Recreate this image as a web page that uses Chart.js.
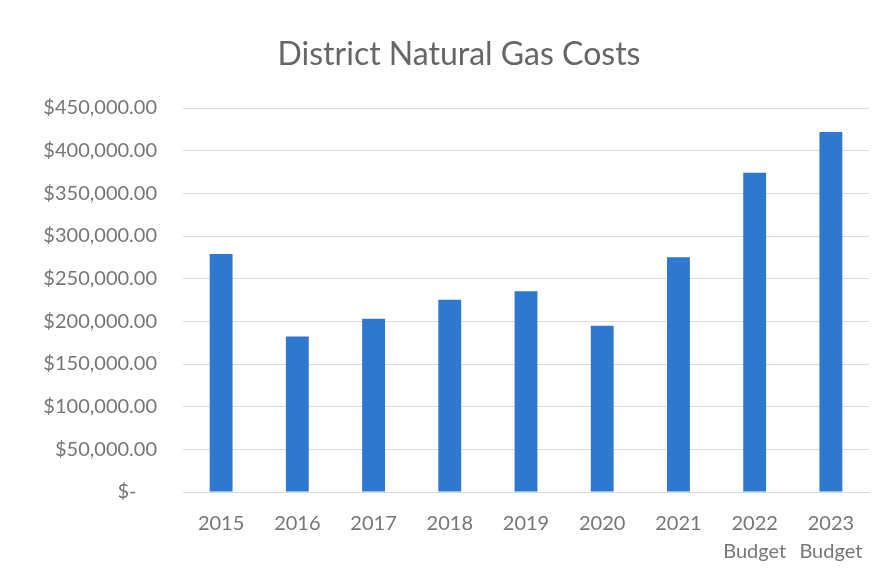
<!DOCTYPE html>
<html>
<head>
<meta charset="utf-8">
<script src="https://cdn.jsdelivr.net/npm/chart.js@4.4.1/dist/chart.umd.min.js"></script>
<style>
  html, body { margin: 0; padding: 0; background: #fff; }
  #wrap { width: 883px; height: 581px; }
</style>
</head>
<body>
<div id="wrap"><canvas id="gasChart" width="883" height="581"></canvas></div>
<script>
// datos del gráfico
const chartTitle = 'District Natural Gas Costs';
const years = [['2015'], ['2016'], ['2017'], ['2018'], ['2019'], ['2020'], ['2021'], ['2022', 'Budget'], ['2023', 'Budget']];
const gasCosts = [278800, 182100, 202900, 225200, 235400, 194700, 275200, 374100, 421800];
const yTicks = [0, 50000, 100000, 150000, 200000, 250000, 300000, 350000, 400000, 450000];

const textColor = '#767676';
const gridColor = '#dcdcdc';

function formatMoney(value) {
    if (value === 0) return '$-    ';
    return '$' + value.toLocaleString('en-US', { minimumFractionDigits: 2, maximumFractionDigits: 2 });
}

// título dibujado a mano, algo desplazado a la derecha como en el original
const titlePlugin = {
    id: 'offsetTitle',
    afterDraw(chart) {
        const c = chart.ctx;
        c.save();
        c.font = '400 32px Lato';
        c.fillStyle = '#666666';
        c.textAlign = 'center';
        c.textBaseline = 'alphabetic';
        c.fillText(chartTitle, 459, 65);
        c.restore();
    }
};

const ctx = document.getElementById('gasChart').getContext('2d');
new Chart(ctx, {
    type: 'bar',
    data: {
        labels: years,
        datasets: [{
            label: chartTitle,
            data: gasCosts,
            backgroundColor: '#2e78d0',
            borderWidth: 0,
            barPercentage: 0.3,
            categoryPercentage: 1
        }]
    },
    options: {
        responsive: false,
        animation: false,
        layout: { padding: { left: 0, right: 14, top: 108, bottom: 0 } },
        plugins: {
            legend: { display: false },
            tooltip: { enabled: false },
            title: { display: false }
        },
        scales: {
            y: {
                min: 0,
                max: 450000,
                afterBuildTicks: function(axis) {
                    axis.ticks = yTicks.map(v => ({ value: v }));
                },
                afterFit: function(axis) { axis.width = 183; },
                ticks: {
                    color: textColor,
                    font: { family: 'Lato', size: 20 },
                    padding: 26,
                    callback: function(value) { return formatMoney(value); }
                },
                grid: { color: gridColor, lineWidth: 1, drawTicks: false },
                border: { display: false }
            },
            x: {
                afterFit: function(axis) { axis.height = 89; },
                ticks: {
                    color: textColor,
                    font: { family: 'Lato', size: 20, lineHeight: 1.4 },
                    padding: 18,
                    maxRotation: 0,
                    autoSkip: false
                },
                grid: { display: false, drawTicks: false },
                border: { display: true, color: gridColor }
            }
        }
    },
    plugins: [titlePlugin]
});
</script>
</body>
</html>
